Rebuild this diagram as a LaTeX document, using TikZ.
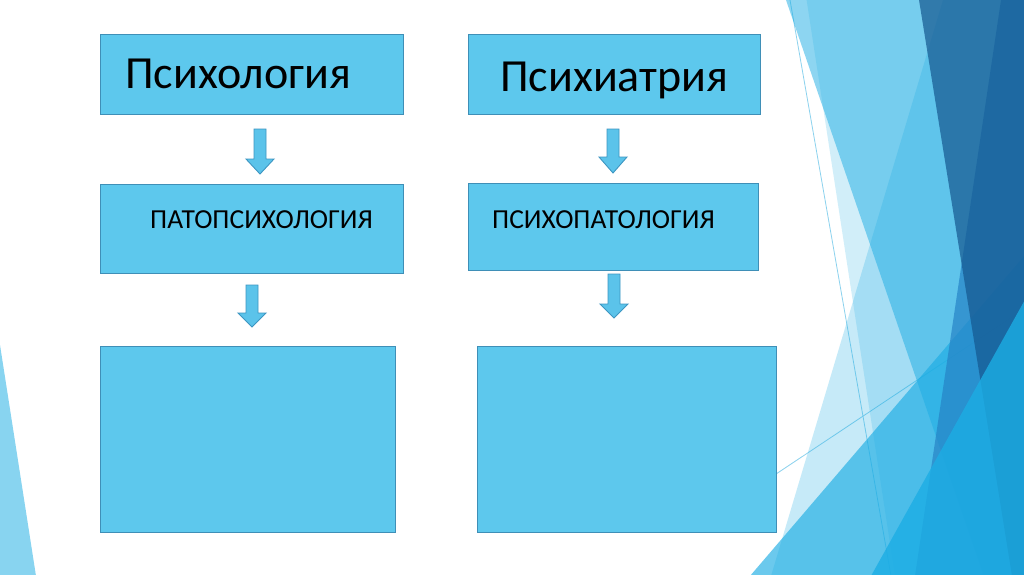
\documentclass[tikz,border=0pt]{standalone}
\usepackage{fontspec}
\setmainfont{Carlito}
\definecolor{acc}{HTML}{1CADE4}
\definecolor{accmid}{HTML}{2683C6}
\definecolor{accdark}{HTML}{15578F}
\definecolor{boxfill}{HTML}{5DC8ED}
\definecolor{boxline}{HTML}{3F8FB7}
\definecolor{arrfill}{HTML}{5BC3EA}
\definecolor{arrline}{HTML}{3D96C2}
\definecolor{thinline}{HTML}{8CD2EE}
\begin{document}
\begin{tikzpicture}[x=1pt,y=-1pt,
  box/.style={draw=boxline, fill=boxfill, line width=1pt, rectangle, inner sep=0pt, anchor=north west},
  arrowshape/.style={draw=arrline, fill=arrfill, line width=0.9pt, line join=miter},
  titletext/.style={font=\fontsize{46}{55}\selectfont, inner sep=0pt, anchor=base west, text=black},
  subtext/.style={font=\fontsize{27.5}{33}\selectfont, inner sep=0pt, anchor=base west, text=black},
  thin/.style={draw=thinline, line width=0.8pt}]
\useasboundingbox (0,0) rectangle (1024,574);
\clip (0,0) rectangle (1024,574);
\fill[white] (0,0) rectangle (1024,574);
% background facets
\coordinate (l1a) at (790,0);
\coordinate (l1b) at (891,576);
\coordinate (l2a) at (770,478);
\coordinate (l2b) at (1024,309);
\draw[thin] (l1a) -- (l1b);
\draw[thin] (l2a) -- (l2b);
\fill[acc, fill opacity=0.25] (943,0) -- (1024,0) -- (1024,576) -- (771,576) -- cycle;
\fill[acc, fill opacity=0.2] (806.6,0) -- (1024,0) -- (1024,576) -- (895,576) -- cycle;
\fill[acc, fill opacity=0.65] (750,576) -- (1024,256) -- (1024,576) -- cycle;
\fill[acc, fill opacity=0.5] (786,0) -- (1024,0) -- (1024,576) -- (984,576) -- cycle;
\fill[accmid, fill opacity=0.7] (1001,0) -- (1024,0) -- (1024,576) -- (915,576) -- cycle;
\fill[accdark, fill opacity=0.7] (919,0) -- (1024,0) -- (1024,576) -- (1012,576) -- cycle;
\fill[acc, fill opacity=0.8] (871,576) -- (1024,301.5) -- (1024,576) -- cycle;
\fill[acc, fill opacity=0.52] (0,345) -- (36,576) -- (0,576) -- cycle;
% boxes
\node[box, minimum width=303pt, minimum height=80pt] (b1) at (100,34) {};
\node[box, minimum width=292pt, minimum height=80pt] (b2) at (468,34) {};
\node[box, minimum width=303pt, minimum height=89pt] (b3) at (100,184) {};
\node[box, minimum width=290pt, minimum height=87pt] (b4) at (468,183) {};
\node[box, minimum width=295pt, minimum height=186pt] (b5) at (100,346) {};
\node[box, minimum width=299pt, minimum height=186pt] (b6) at (477,346) {};
% texts
\node[titletext] (t1) at (125,88) {Психология};
\node[titletext] (t2) at (500,91) {Психиатрия};
\node[subtext] (t3) at (150,228) {ПАТОПСИХОЛОГИЯ};
\node[subtext] (t4) at (492,228) {ПСИХОПАТОЛОГИЯ};
% block arrows
\foreach \cx/\t/\b/\p in {260/129/159/174, 252/285/313/327, 613/129/157/173, 614/274/304/318}
  \draw[arrowshape] (\cx-6,\t) -- (\cx+6,\t) -- (\cx+6,\b) -- (\cx+14,\b) -- (\cx,\p) -- (\cx-14,\b) -- (\cx-6,\b) -- cycle;
\end{tikzpicture}
\end{document}
